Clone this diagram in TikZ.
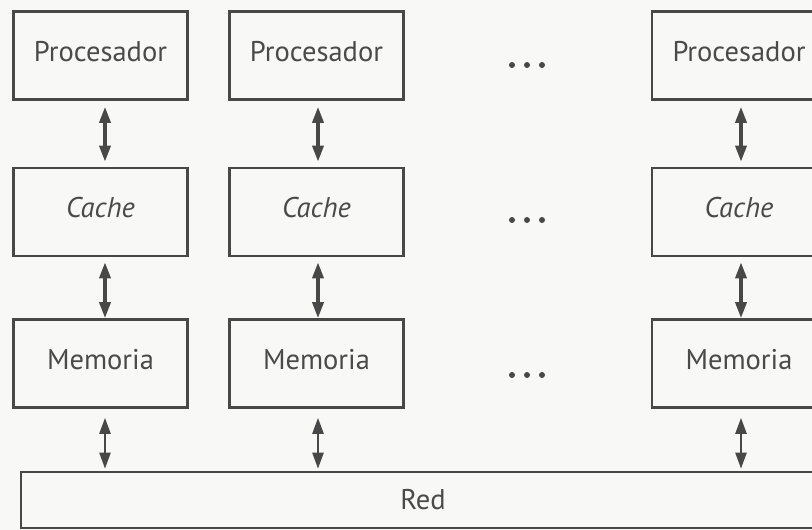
\documentclass[tikz,border=0pt]{standalone}
\usepackage{fontspec}
\setmainfont{PT Sans}
\usetikzlibrary{arrows.meta,calc}
\definecolor{ink}{HTML}{484848}
\definecolor{txt}{HTML}{4A4A4A}
\definecolor{paper}{HTML}{F8F8F6}
\begin{document}
\begin{tikzpicture}[x=1pt,y=-1pt,
  unit/.style={draw=ink, line width=2.6pt, rectangle, minimum width=174pt,
    minimum height=88pt, inner sep=0pt, text=txt, text height=19.5pt, text depth=8pt,
    font=\fontsize{28.5}{32}\selectfont},
  bus/.style={unit, minimum width=804pt, minimum height=56pt, text depth=0pt},
  link/.style={ink, line width=3.4pt, {Triangle[length=16pt,width=11pt]}-{Triangle[length=16pt,width=11pt]}},
  thinlink/.style={link, line width=2.4pt},
  dot/.style={circle, fill=ink, inner sep=0pt, minimum size=6pt}]
\useasboundingbox (0,0) rectangle (812,530);
\fill[paper] (0,0) rectangle (812,530);
\begin{scope}
\clip (0,0) rectangle (812,530);
% three columns: processor, cache, memory
\node[unit] (p1) at (100.5,55.5) {Procesador};
\node[unit] (c1) at (100.5,212) {\itshape Cache};
\node[unit] (m1) at (100.5,363.5) {Memoria};
\node[unit] (p2) at (316.5,55.5) {Procesador};
\node[unit] (c2) at (316.5,212) {\itshape Cache};
\node[unit] (m2) at (316.5,363.5) {Memoria};
\node[unit] (p3) at (739,55.5) {Procesador};
\node[unit] (c3) at (739,212) {\itshape Cache};
\node[unit] (m3) at (739,363.5) {Memoria};
% interconnection network
\node[bus] (red) at (423,500) {Red};
\end{scope}
% ellipses between columns
\foreach \y [count=\r] in {65,220,375}{
  \foreach \x [count=\k] in {512,527,542}
    \node[dot] (d\r\k) at (\x,\y) {};
}
% vertical links
\coordinate (a1) at (105,0);
\coordinate (a2) at (318,0);
\coordinate (a3) at (741,0);
\foreach \i in {1,2,3}{
  \draw[link] ($(p\i.south -| a\i)+(0,6)$) -- ($(c\i.north -| a\i)+(0,-5)$);
  \draw[link] ($(c\i.south -| a\i)+(0,5)$) -- (m\i.north -| a\i);
  \draw[thinlink] ($(m\i.south -| a\i)+(0,9)$) -- ($(red.north -| a\i)+(0,-2)$);
}
\end{tikzpicture}
\end{document}
